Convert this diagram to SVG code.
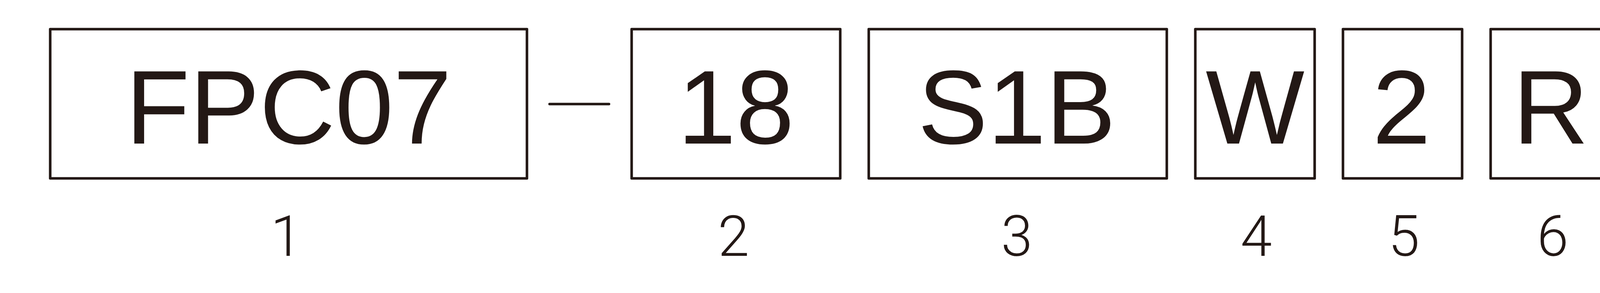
<svg xmlns="http://www.w3.org/2000/svg" width="7761" height="749" viewBox="0 0 7761 749">
  <style>
    .box { fill: none; stroke: #231815; stroke-width: 6.6; stroke-linejoin: round; }
    .code { font-family: "Liberation Sans", Arial, sans-serif; font-size: 268px; fill: #231815; text-anchor: middle; }
    .num { font-family: Roboto, "Noto Sans", sans-serif; font-weight: 300; font-size: 145px; fill: #231815; text-anchor: middle; }
    .dash { stroke: #231815; stroke-width: 6.6; stroke-linecap: round; }
  </style>
  <rect x="0" y="0" width="7761" height="749" fill="#ffffff"/>
  <g id="node-1">
    <rect class="box" x="128.5" y="74.5" width="1220.5" height="381.5"/>
    <text class="code" x="739" y="367">FPC07</text>
    <text class="num" x="733" y="654">1</text>
  </g>
  <g id="node-2">
    <rect class="box" x="1617" y="74.5" width="534" height="381.5"/>
    <text class="code" x="1884" y="367">18</text>
    <text class="num" x="1878" y="654">2</text>
  </g>
  <g id="node-3">
    <rect class="box" x="2224" y="74.5" width="763" height="381.5"/>
    <text class="code" x="2603" y="367">S1B</text>
    <text class="num" x="2603" y="654">3</text>
  </g>
  <g id="node-4">
    <rect class="box" x="3060" y="74.5" width="305.5" height="381.5"/>
    <text class="code" x="3213" y="367">W</text>
    <text class="num" x="3216" y="654">4</text>
  </g>
  <g id="node-5">
    <rect class="box" x="3438" y="74.5" width="305" height="381.5"/>
    <text class="code" x="3588" y="367">2</text>
    <text class="num" x="3594" y="654">5</text>
  </g>
  <g id="node-6">
    <rect class="box" x="3816" y="74.5" width="304.5" height="381.5"/>
    <text class="code" x="3970" y="367">R</text>
    <text class="num" x="3975" y="654">6</text>
  </g>
  <g id="connectors">
    <line class="dash" x1="1407" y1="266" x2="1559" y2="266"/>
  </g>
</svg>
